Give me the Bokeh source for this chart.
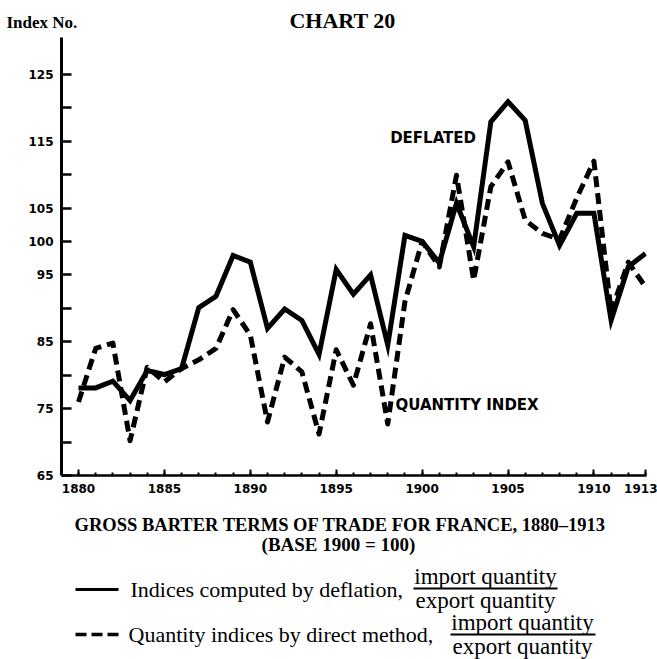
from bokeh.plotting import figure
from bokeh.layouts import column
from bokeh.models import Range1d, FixedTicker, ColumnDataSource
from bokeh.embed import file_html
from bokeh.resources import INLINE
from bokeh.core.properties import value

# ---- data ----
years = list(range(1880, 1914))
deflated = [78.1, 78.1, 79.1, 76.2, 80.7, 80.1, 81.0, 90.1, 91.8, 97.9,
            96.9, 87.0, 89.9, 88.2, 83.1, 95.8, 92.1, 95.0, 84.5, 100.9,
            100.0, 96.8, 105.7, 99.2, 117.9, 120.9, 118.1, 105.7, 99.4, 104.2,
            104.2, 88.2, 96.2, 98.2]
quantity = [76.0, 84.0, 84.8, 70.2, 81.2, 79.0, 81.0, 82.3, 84.0, 89.8,
            86.0, 73.0, 82.7, 80.5, 71.2, 83.8, 78.5, 87.7, 72.7, 91.0,
            100.0, 96.2, 109.9, 94.2, 108.2, 111.9, 103.2, 101.2, 100.3, 106.5,
            112.0, 89.5, 96.9, 93.2]
x_ticks = [1880, 1885, 1890, 1895, 1900, 1905, 1910, 1913]
y_labeled = [65, 75, 85, 95, 100, 105, 115, 125]
y_unlabeled = [70, 80, 90, 110, 120]

W = 657
H_TOP, H_CHART, H_BOT = 37, 473, 149
SERIF = value("Liberation Serif")
BLOCK = value("DejaVu Sans")


def strip(height):
    f = figure(width=W, height=height, x_range=Range1d(0, W), y_range=Range1d(height, 0),
               x_axis_type=None, y_axis_type=None, output_backend="svg",
               toolbar_location=None, min_border=0, frame_align=False)
    f.grid.visible = False
    f.outline_line_color = None
    return f


# ---- top strip: "Index No." and "CHART 20" ----
top = strip(H_TOP)
top.text(x=[6], y=[22], text=["Index No."], text_font=SERIF, text_font_style="bold",
         text_font_size="17px", text_baseline="middle", text_align="left", text_color="black")
top.text(x=[342], y=[20], text=["CHART 20"], text_font=SERIF, text_font_style="bold",
         text_font_size="22px", text_baseline="middle", text_align="center", text_color="black")

# ---- chart ----
src = ColumnDataSource(dict(year=years, deflated=deflated, quantity=quantity))
p = figure(width=W, height=H_CHART, x_range=Range1d(1879.01, 1913.06), y_range=Range1d(65, 130.5),
           output_backend="svg", toolbar_location=None, frame_align=False,
           min_border_left=61, min_border_right=11, min_border_top=0, min_border_bottom=35)
p.grid.visible = False
p.outline_line_color = None

p.xaxis.ticker = FixedTicker(ticks=x_ticks, minor_ticks=years)
p.yaxis.ticker = FixedTicker(ticks=y_labeled, minor_ticks=y_unlabeled)

p.xaxis.axis_line_width = 2.5
p.xaxis.major_tick_in = 6
p.xaxis.major_tick_out = 0
p.xaxis.minor_tick_in = 3
p.xaxis.minor_tick_out = 0
p.xaxis.major_tick_line_width = 2
p.xaxis.minor_tick_line_width = 2
p.xaxis.major_label_text_font = "DejaVu Sans"
p.xaxis.major_label_text_font_style = "bold"
p.xaxis.major_label_text_font_size = "12px"
p.xaxis.major_label_standoff = 8

p.yaxis.axis_line_width = 3
p.yaxis.major_tick_in = 10
p.yaxis.major_tick_out = 0
p.yaxis.minor_tick_in = 10
p.yaxis.minor_tick_out = 0
p.yaxis.major_tick_line_width = 2.5
p.yaxis.minor_tick_line_width = 2.5
p.yaxis.major_label_text_font = "DejaVu Sans"
p.yaxis.major_label_text_font_style = "bold"
p.yaxis.major_label_text_font_size = "12px"
p.yaxis.major_label_standoff = 8

for ax in p.axis:
    ax.axis_line_color = "black"
    ax.major_tick_line_color = "black"
    ax.minor_tick_line_color = "black"
    ax.major_label_text_color = "black"

p.line("year", "deflated", source=src, line_width=5, line_color="black", line_join="miter")
p.line("year", "quantity", source=src, line_width=5, line_color="black",
       line_dash="11 6", line_join="round")

p.text(x=[1898.14], y=[115.4], text=["DEFLATED"], text_font=BLOCK, text_font_style="bold",
       text_font_size="15px", text_baseline="middle", text_align="left", text_color="black")
p.text(x=[1898.45], y=[75.5], text=["QUANTITY INDEX"], text_font=BLOCK, text_font_style="bold",
       text_font_size="15px", text_baseline="middle", text_align="left", text_color="black")

# ---- bottom block: caption and key ----
b = strip(H_BOT)

b.text(x=[340], y=[14], text=["GROSS BARTER TERMS OF TRADE FOR FRANCE, 1880–1913"],
       text_font=SERIF, text_font_style="bold", text_font_size="18.5px",
       text_baseline="middle", text_align="center", text_color="black")
b.text(x=[338], y=[34], text=["(BASE 1900 = 100)"],
       text_font=SERIF, text_font_style="bold", text_font_size="19px",
       text_baseline="middle", text_align="center", text_color="black")

b.line([75, 118], [79, 79], line_width=3, line_color="black")
b.text(x=[130], y=[79], text=["Indices computed by deflation,"], text_font=SERIF,
       text_font_size="22px", text_baseline="middle", text_align="left", text_color="black")
b.text(x=[485], y=[66], text=["import quantity"], text_font=SERIF,
       text_font_size="23px", text_baseline="middle", text_align="center", text_color="black")
b.line([413, 557], [78, 78], line_width=2, line_color="black")
b.text(x=[485], y=[90], text=["export quantity"], text_font=SERIF,
       text_font_size="23px", text_baseline="middle", text_align="center", text_color="black")

b.line([75, 118], [124, 124], line_width=3.5, line_color="black", line_dash="11 5")
b.text(x=[128], y=[124], text=["Quantity indices by direct method,"], text_font=SERIF,
       text_font_size="22px", text_baseline="middle", text_align="left", text_color="black")
b.text(x=[522], y=[112], text=["import quantity"], text_font=SERIF,
       text_font_size="23px", text_baseline="middle", text_align="center", text_color="black")
b.line([450, 595], [124, 124], line_width=2, line_color="black")
b.text(x=[522], y=[136], text=["export quantity"], text_font=SERIF,
       text_font_size="23px", text_baseline="middle", text_align="center", text_color="black")

layout = column(top, p, b, spacing=0)
open("out.html", "w").write(file_html(layout, INLINE))
